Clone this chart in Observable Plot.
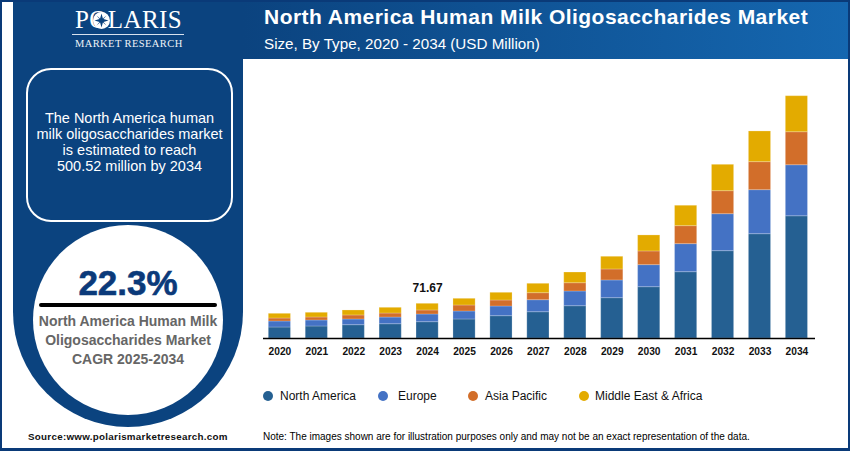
<!DOCTYPE html>
<html><head><meta charset="utf-8">
<script src="https://cdn.jsdelivr.net/npm/d3@7"></script>
<script src="https://cdn.jsdelivr.net/npm/@observablehq/plot@0.6"></script>
<style>
html,body{margin:0;padding:0;background:#fff;}
body{width:850px;height:451px;position:relative;overflow:hidden;font-family:"Liberation Sans",Arial,sans-serif;}
.abs{position:absolute;white-space:nowrap;}
.ctr{text-align:center;transform:translateX(-50%);}
#frame{position:absolute;left:0;top:0;width:846px;height:446px;border:solid #0a3a78;border-width:2px 2px 3px 2px;z-index:5;pointer-events:none;}
#head{position:absolute;left:243px;top:0;width:607px;height:59px;background:linear-gradient(90deg,#0b437f,#1567b0);}
#side{position:absolute;left:13px;top:0;width:230px;height:427px;background:#0b437f;border-radius:0 0 115px 115px/0 0 115px 115px;}
#box{position:absolute;left:26px;top:68px;width:203px;height:150px;border:2px solid #fff;border-radius:25px;}
#disc{position:absolute;left:33px;top:225px;width:190px;height:190px;border-radius:50%;background:#fff;}
#rule{position:absolute;left:39px;top:303px;width:178px;height:4px;border-radius:2px;background:#000;}
#lrule{position:absolute;left:72px;top:33.5px;width:112px;height:1px;background:#d8e2ee;}
#plot{position:absolute;left:0;top:0;}
#legend span.dot{position:absolute;width:10px;height:10px;border-radius:50%;top:391px;}
#star{position:absolute;left:93px;top:11.5px;}
</style></head><body>
<div id="head"></div>
<div id="side"></div>
<div id="plot"></div>
<div id="box"></div>
<div id="disc"></div>
<div id="rule"></div>
<div id="lrule"></div>
<div id="frame"></div>
<div class="abs" style="left:75px;top:5px;font:25px/30px 'Liberation Serif',serif;color:#fff;letter-spacing:.4px;">POLARIS</div>
<svg id="star" width="17" height="17" viewBox="-8.5 -8.5 17 17"><circle r="8.5" fill="#fff"/><polygon fill="#0b437f" points="0,-7 1.4,-2 5,-5 2,-1.4 7,0 2,1.4 5,5 1.4,2 0,7 -1.4,2 -5,5 -2,1.4 -7,0 -2,-1.4 -5,-5 -1.4,-2"/></svg>
<div class="abs" style="left:75px;top:37px;font:10.5px/14px 'Liberation Serif',serif;color:#eef3f8;letter-spacing:.4px;">MARKET RESEARCH</div>
<div class="abs" style="left:264px;top:5px;font:bold 21px/23px 'Liberation Sans',Arial,sans-serif;color:#fff;letter-spacing:.46px;">North America Human Milk Oligosaccharides Market</div>
<div class="abs" style="left:264px;top:35px;font:15.2px/18px 'Liberation Sans',Arial,sans-serif;color:#fff;">Size, By Type, 2020 - 2034 (USD Million)</div>
<div class="abs ctr" style="left:129.5px;top:110px;font:14.5px/16px 'Liberation Sans',Arial,sans-serif;color:#fff;">The North America human<br>milk oligosaccharides market<br>is estimated to reach<br>500.52 million by 2034</div>
<div class="abs ctr" style="left:128px;top:263px;font:bold 35px/40px 'Liberation Sans',Arial,sans-serif;color:#0b3a7a;-webkit-text-stroke:.6px #0b3a7a;">22.3%</div>
<div class="abs ctr" style="left:128px;top:312px;font:bold 14px/19px 'Liberation Sans',Arial,sans-serif;color:#666;">North America Human Milk<br>Oligosaccharides Market<br>CAGR 2025-2034</div>
<div class="abs" style="left:28px;top:431px;font:bold 9.8px/12px 'Liberation Sans',Arial,sans-serif;color:#111;letter-spacing:.28px;">Source:www.polarismarketresearch.com</div>
<div class="abs" style="left:263px;top:431px;font:10px/12px 'Liberation Sans',Arial,sans-serif;color:#000;">Note: The images shown are for illustration purposes only and may not be an exact representation of the data.</div>
<div id="legend"></div>
<script>
const years = [2020,2021,2022,2023,2024,2025,2026,2027,2028,2029,2030,2031,2032,2033,2034];
const regions = ["North America","Europe","Asia Pacific","Middle East & Africa"];
const colors = ["#256092","#4472c4","#d26e2a","#e3ab00"];
const northAmerica = [22.7,24.8,27.5,29.5,33.7,39.3,46.1,54.3,66.7,83.3,106,137,180.4,215.5,252.5];
const europe = [12.4,12.4,11.8,13.8,15.9,16.5,20,24.8,30.4,36.6,45.5,57.9,76.4,90.9,105.4];
const asiaPacific = [6.2,6.2,8.3,8.3,8.3,12.4,12.4,14.5,17.1,22.7,28.3,37.2,47.5,57.9,68.2];
const middleEastAfrica = [9.7,9.7,10.3,11.8,13.77,13.8,15.9,19.4,22.1,26.2,33.1,42.1,54.5,63.4,74.42];
const annotatedYear = 2024, annotatedTotal = 71.67, yMax = 500.52;
const legendDotX = [263,378,468,579], legendTextX = [280,398,485,595];

const series = [northAmerica,europe,asiaPacific,middleEastAfrica];
const rows = regions.flatMap((r,i)=>years.map((y,j)=>({year:y,region:r,value:series[i][j]})));

const chart = Plot.plot({
  width:850,height:451,marginLeft:263,marginRight:35,marginTop:95.7,marginBottom:113,
  style:{background:"transparent",overflow:"visible"},
  x:{type:"band",domain:years,round:false,paddingInner:.4,paddingOuter:.1735,align:.414,label:null,tickSize:0,tickPadding:9,tickFormat:d=>String(d)},
  y:{domain:[0,yMax],axis:null},
  color:{domain:regions,range:colors},
  marks:[
    Plot.barY(rows,{x:"year",y:"value",fill:"region",order:regions,stroke:"#fff",strokeOpacity:.22,strokeWidth:1}),
    Plot.ruleY([0],{stroke:"#000",strokeWidth:1.3}),
    Plot.text([{year:annotatedYear,v:annotatedTotal}],{x:"year",y:"v",text:d=>d.v.toFixed(2),dy:-16,fontWeight:"bold",fontSize:12,fill:"#111"})
  ]
});
chart.querySelectorAll('[aria-label="x-axis tick label"] text').forEach(t=>{t.setAttribute("font-weight","bold");t.setAttribute("font-size","10.2");t.setAttribute("fill","#111");});
chart.style.fontFamily="'Liberation Sans',Arial,sans-serif";
document.getElementById("plot").append(chart);

const lg=document.getElementById("legend");
regions.forEach((r,i)=>{
  const d=document.createElement("span");d.className="dot";d.style.left=legendDotX[i]+"px";d.style.background=colors[i];lg.append(d);
  const t=document.createElement("div");t.className="abs";t.style.cssText=`left:${legendTextX[i]}px;top:389px;font:12px/15px 'Liberation Sans',Arial,sans-serif;color:#111;`;t.textContent=r;lg.append(t);
});
</script>
</body></html>
